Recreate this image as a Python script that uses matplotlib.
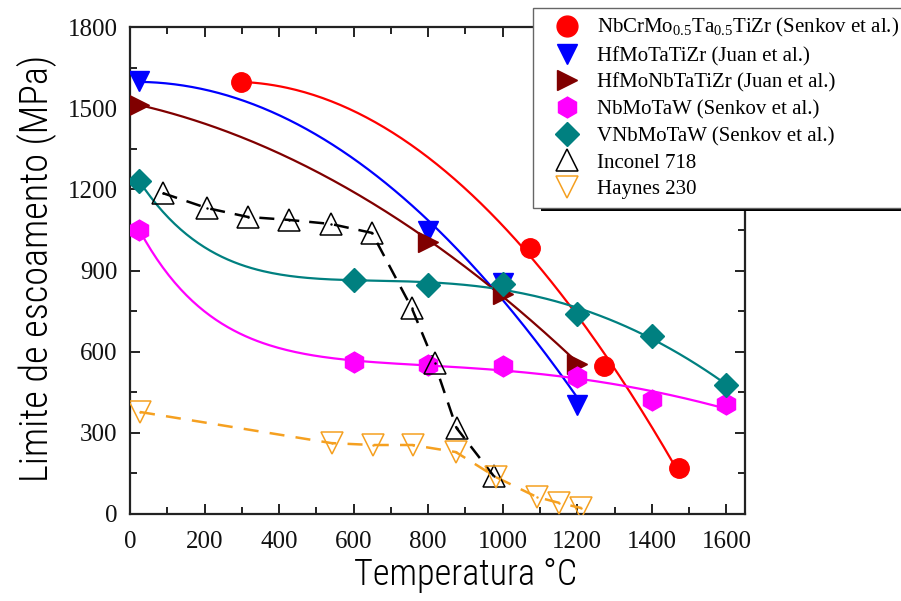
import numpy as np
import matplotlib
matplotlib.use("Agg")
import matplotlib.pyplot as plt
from matplotlib.lines import Line2D
from matplotlib.patches import Rectangle
from matplotlib import font_manager as fm
from matplotlib.ticker import MultipleLocator

# ---------------- data ----------------
red_x = [298, 1073, 1273, 1473]
red_y = [1595, 983, 546, 170]

blue_x = [25, 800, 1000, 1200]
blue_y = [1600, 1045, 855, 404]

dred_x = [25, 800, 1000, 1200]
dred_y = [1512, 1007, 814, 556]

mag_x = [25, 600, 800, 1000, 1200, 1400, 1600]
mag_y = [1050, 560, 550, 548, 506, 421, 405]

teal_x = [25, 600, 800, 1000, 1200, 1400, 1600]
teal_y = [1230, 865, 848, 850, 740, 658, 477]

inc_x = [88, 206, 316, 426, 539, 649, 756, 817, 876, 976]
inc_y = [1186, 1131, 1098, 1087, 1072, 1039, 761, 558, 318, 140]

hay_x = [27, 541, 651, 758, 874, 981, 1091, 1152, 1211]
hay_y = [377, 262, 255, 255, 229, 137, 63, 41, 22]

labels = [r"NbCrMo$_{0.5}$Ta$_{0.5}$TiZr (Senkov et al.)",
          "HfMoTaTiZr (Juan et al.)",
          "HfMoNbTaTiZr (Juan et al.)",
          "NbMoTaW (Senkov et al.)",
          "VNbMoTaW (Senkov et al.)",
          "Inconel 718",
          "Haynes 230"]

xticks = [0, 200, 400, 600, 800, 1000, 1200, 1400, 1600]
yticks = [0, 300, 600, 900, 1200, 1500, 1800]

# ---------------- fonts ----------------
names = {f.name for f in fm.fontManager.ttflist}
serif = "Liberation Serif" if "Liberation Serif" in names else "DejaVu Serif"
plt.rcParams["mathtext.fontset"] = "custom"
plt.rcParams["mathtext.rm"] = serif
plt.rcParams["mathtext.it"] = serif
plt.rcParams["mathtext.bf"] = serif
narrow_family = None
for cand in ["Liberation Sans Narrow", "Roboto Condensed", "Open Sans Condensed"]:
    if cand in names:
        narrow_family = cand
        break
if narrow_family is None:
    ylab_font = fm.FontProperties(family="DejaVu Sans", stretch="condensed", size=25)
    xlab_font = fm.FontProperties(family="DejaVu Sans", stretch="condensed", size=23)
else:
    ylab_font = fm.FontProperties(family=narrow_family, size=27.5, weight="light")
    xlab_font = fm.FontProperties(family=narrow_family, size=26, weight="light")

# ---------------- colors ----------------
c_red = "#ff0000"
c_blue = "#0000ff"
c_dred = "#800000"
c_mag = "#ff00ff"
c_teal = "#008080"
c_blk = "#000000"
c_org = "#f5a020"

fig = plt.figure(figsize=(9.01, 6.01), dpi=100)
ax = fig.add_axes([130/901, 1-514/601, 615/901, 487/601])

def polyfit_line(x, y, deg):
    x = np.asarray(x, float); y = np.asarray(y, float)
    p = np.polyfit(x, y, deg)
    xx = np.linspace(x.min(), x.max(), 200)
    return xx, np.polyval(p, xx)

def expfit_line(x, y, tau):
    x = np.asarray(x, float); y = np.asarray(y, float)
    A = np.column_stack([np.ones_like(x), np.exp(-x/tau), x, x**2])
    coef, *_ = np.linalg.lstsq(A, y, rcond=None)
    xx = np.linspace(x.min(), x.max(), 200)
    B = np.column_stack([np.ones_like(xx), np.exp(-xx/tau), xx, xx**2])
    return xx, B @ coef

lw = 1.6
# fitted curves
xx, yy = polyfit_line(red_x, red_y, 2); ax.plot(xx, yy, color=c_red, lw=lw, zorder=2)
xx, yy = polyfit_line(blue_x, blue_y, 2); ax.plot(xx, yy, color=c_blue, lw=lw, zorder=2)
xx, yy = polyfit_line(dred_x, dred_y, 2); ax.plot(xx, yy, color=c_dred, lw=lw, zorder=2)
xx, yy = expfit_line(mag_x, mag_y, 240); ax.plot(xx, yy, color=c_mag, lw=lw, zorder=2)
xx, yy = expfit_line(teal_x, teal_y, 320); ax.plot(xx, yy, color=c_teal, lw=lw, zorder=2)
ax.plot(inc_x, inc_y, color=c_blk, lw=1.8, ls=(0, (6, 4)), zorder=2)
ax.plot(hay_x, hay_y, color=c_org, lw=1.8, ls=(0, (6, 4.5)), zorder=2)

# markers
ax.plot(red_x, red_y, "o", color=c_red, ms=14, mec=c_red, ls="none", zorder=4)
ax.plot(blue_x, blue_y, "v", color=c_blue, ms=15, ls="none", zorder=4)
ax.plot(dred_x, dred_y, ">", color=c_dred, ms=15, ls="none", zorder=4)
ax.plot(mag_x, mag_y, "h", color=c_mag, ms=15, ls="none", zorder=4)
ax.plot(teal_x, teal_y, "D", color=c_teal, ms=12, ls="none", zorder=4)
ax.plot(inc_x, inc_y, "^", mfc="none", mec=c_blk, mew=1.1, ms=16, ls="none", zorder=4)
ax.plot(inc_x, inc_y, ".", color=c_blk, ms=1.5, ls="none", zorder=4)
ax.plot(hay_x, hay_y, "v", mfc="none", mec=c_org, mew=1.1, ms=16, ls="none", zorder=4)
ax.plot(hay_x, hay_y, ".", color=c_org, ms=1.5, ls="none", zorder=4)

ax.set_xlim(0, 1650)
ax.set_ylim(0, 1800)
ax.set_xticks(xticks)
ax.set_yticks(yticks)
ax.xaxis.set_minor_locator(MultipleLocator(100))
ax.yaxis.set_minor_locator(MultipleLocator(150))
ax.tick_params(which="both", direction="in", top=True, right=True, width=1.4, color="#222222")
ax.tick_params(which="major", length=7)
ax.tick_params(which="minor", length=5)
ax.tick_params(axis="y", pad=9)
ax.tick_params(axis="x", pad=12)
for lab in ax.get_xticklabels() + ax.get_yticklabels():
    lab.set_fontfamily(serif)
    lab.set_fontsize(18)
    lab.set_color("#111111")
for s in ax.spines.values():
    s.set_linewidth(1.6)
    s.set_color("#222222")

ax.set_xlabel("Temperatura °C", fontproperties=xlab_font)
ax.xaxis.set_label_coords(0.545, -0.088)
ax.set_ylabel("Limite de escoamento (MPa)", fontproperties=ylab_font)
ax.yaxis.set_label_coords(-0.118, 0.505)

# legend
handles = [
    Line2D([], [], marker="o", color=c_red, ls="none", ms=15),
    Line2D([], [], marker="v", color=c_blue, ls="none", ms=15),
    Line2D([], [], marker=">", color=c_dred, ls="none", ms=15),
    Line2D([], [], marker="h", color=c_mag, ls="none", ms=15),
    Line2D([], [], marker="D", color=c_teal, ls="none", ms=12),
    Line2D([], [], marker="^", mfc="none", mec=c_blk, mew=1.1, ls="none", ms=16),
    Line2D([], [], marker="v", mfc="none", mec=c_org, mew=1.1, ls="none", ms=16),
]
shadow = Rectangle((541/901, 1-211/601), 0.5, 190/601, transform=fig.transFigure,
                   facecolor="black", edgecolor="none", zorder=5)
fig.patches.append(shadow)
leg = fig.legend(handles, labels, loc="upper left",
                 bbox_to_anchor=(533/901, 0.0, 0.5, 1-8/601), mode="expand",
                 borderaxespad=0, prop={"family": serif, "size": 15},
                 frameon=True, fancybox=False, edgecolor="#666666", framealpha=1,
                 labelspacing=0.34, handlelength=2.45, handletextpad=0.2,
                 borderpad=0.4)
leg.set_zorder(6)
leg.get_frame().set_linewidth(1.0)

fig.savefig("out.png", dpi=100)
